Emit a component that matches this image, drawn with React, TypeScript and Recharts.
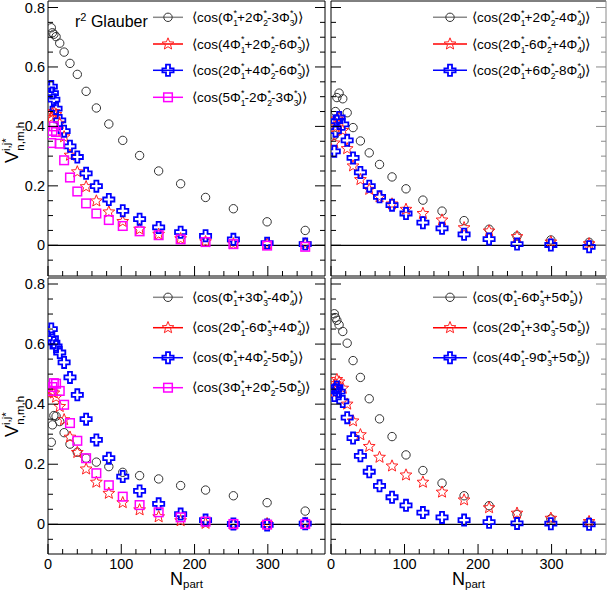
import React from "react";
import { ScatterChart, Scatter, XAxis, YAxis, ReferenceLine, Customized } from "recharts";

const FONT = "'Liberation Sans', Arial, Helvetica, sans-serif";

// N_part of the centrality bins
const npart = [4.5, 6, 8, 11, 16, 22, 30, 40, 52, 66, 83, 102, 125, 151, 181, 215, 253, 299, 351];

// axis ticks
const xTicks = [0, 20, 40, 60, 80, 100, 120, 140, 160, 180, 200, 220, 240, 260, 280, 300, 320, 340, 360];
const xMajor = [0, 100, 200, 300];
const yTicks = [-0.05, 0, 0.05, 0.1, 0.15, 0.2, 0.25, 0.3, 0.35, 0.4, 0.45, 0.5, 0.55, 0.6, 0.65, 0.7, 0.75, 0.8];
const yMajor = [0, 0.2, 0.4, 0.6, 0.8];

// top left panel
const tlLabels = ["Φ1*+2Φ2*-3Φ3*", "4Φ1*+2Φ2*-6Φ3*", "2Φ1*+4Φ2*-6Φ3*", "5Φ1*-2Φ2*-3Φ3*"];
const tlCircle = [0.732, 0.715, 0.71, 0.702, 0.68, 0.65, 0.612, 0.575, 0.518, 0.462, 0.408, 0.353, 0.302, 0.25, 0.207, 0.161, 0.123, 0.079, 0.05];
const tlStar = [0.43, 0.445, 0.45, 0.44, 0.41, 0.365, 0.303, 0.247, 0.197, 0.149, 0.112, 0.08, 0.054, 0.037, 0.022, 0.012, 0.005, 0.004, 0.005];
const tlCross = [0.534, 0.512, 0.49, 0.46, 0.42, 0.384, 0.333, 0.297, 0.242, 0.199, 0.154, 0.116, 0.088, 0.06, 0.044, 0.032, 0.02, 0.007, 0.004];
const tlSquare = [0.344, 0.385, 0.4, 0.381, 0.342, 0.286, 0.228, 0.181, 0.141, 0.107, 0.085, 0.065, 0.047, 0.034, 0.02, 0.011, 0.004, -0.001, -0.005];

// top right panel
const trLabels = ["2Φ1*+2Φ2*-4Φ4*", "2Φ1*-6Φ2*+4Φ4*", "2Φ1*+6Φ2*-8Φ4*"];
const trCircle = [0.37, 0.45, 0.497, 0.512, 0.493, 0.446, 0.396, 0.351, 0.311, 0.272, 0.23, 0.19, 0.152, 0.115, 0.083, 0.054, 0.031, 0.018, 0.01];
const trStar = [0.344, 0.398, 0.425, 0.43, 0.386, 0.325, 0.267, 0.221, 0.188, 0.163, 0.139, 0.121, 0.107, 0.085, 0.059, 0.048, 0.029, 0.011, 0.005];
const trCross = [0.316, 0.384, 0.418, 0.43, 0.407, 0.353, 0.294, 0.245, 0.199, 0.163, 0.135, 0.107, 0.076, 0.057, 0.037, 0.021, 0.004, 0.001, -0.005];

// bottom left panel
const blLabels = ["Φ1*+3Φ3*-4Φ4*", "2Φ1*-6Φ3*+4Φ4*", "Φ1*+4Φ2*-5Φ5*", "3Φ1*+2Φ2*-5Φ5*"];
const blCircle = [0.273, 0.331, 0.362, 0.36, 0.342, 0.305, 0.267, 0.24, 0.22, 0.207, 0.192, 0.173, 0.162, 0.151, 0.129, 0.114, 0.095, 0.072, 0.044];
const blStar = [0.443, 0.44, 0.437, 0.423, 0.392, 0.348, 0.29, 0.239, 0.184, 0.14, 0.103, 0.072, 0.048, 0.025, 0.012, 0.003, 0.0, 0.002, 0.004];
const blCross = [0.65, 0.62, 0.605, 0.592, 0.572, 0.539, 0.489, 0.431, 0.35, 0.281, 0.22, 0.159, 0.111, 0.068, 0.034, 0.014, 0.001, -0.002, 0.002];
const blSquare = [0.444, 0.457, 0.47, 0.468, 0.444, 0.398, 0.337, 0.278, 0.22, 0.17, 0.13, 0.092, 0.064, 0.04, 0.023, 0.009, 0.001, -0.001, 0.001];

// bottom right panel
const brLabels = ["Φ1*-6Φ3*+5Φ5*", "2Φ1*+3Φ3*-5Φ5*", "4Φ1*-9Φ3*+5Φ5*"];
const brCircle = [0.701, 0.688, 0.679, 0.664, 0.642, 0.603, 0.545, 0.489, 0.418, 0.351, 0.292, 0.231, 0.179, 0.137, 0.095, 0.062, 0.033, 0.018, 0.007];
const brStar = [0.437, 0.468, 0.482, 0.474, 0.453, 0.4, 0.344, 0.298, 0.259, 0.223, 0.194, 0.164, 0.14, 0.107, 0.081, 0.055, 0.037, 0.02, 0.009];
const brCross = [0.429, 0.448, 0.457, 0.442, 0.409, 0.355, 0.287, 0.228, 0.175, 0.128, 0.09, 0.063, 0.039, 0.023, 0.014, 0.007, 0.003, 0.002, 0.0];

type MarkerType = "circle" | "star" | "cross" | "square";

const markerColor: Record<MarkerType, string> = {
  circle: "#333333",
  star: "#ff2020",
  cross: "#0000ff",
  square: "#ff00ff",
};
const legendLineColor: Record<MarkerType, string> = {
  circle: "#8a8a8a",
  star: "#ff0000",
  cross: "#0000ff",
  square: "#ff00ff",
};

function starPath(cx: number, cy: number, R: number, r: number) {
  let d = "";
  for (let k = 0; k < 10; k++) {
    const a = -Math.PI / 2 + (k * Math.PI) / 5;
    const rad = k % 2 === 0 ? R : r;
    d += (k === 0 ? "M" : "L") + (cx + rad * Math.cos(a)).toFixed(2) + "," + (cy + rad * Math.sin(a)).toFixed(2);
  }
  return d + "Z";
}

function crossPath(cx: number, cy: number, a: number, L: number) {
  return `M${cx - a},${cy - L}H${cx + a}V${cy - a}H${cx + L}V${cy + a}H${cx + a}V${cy + L}H${cx - a}V${cy + a}H${cx - L}V${cy - a}H${cx - a}Z`;
}

function Glyph({ type, cx, cy }: { type: MarkerType; cx: number; cy: number }) {
  const c = markerColor[type];
  if (type === "circle") return <circle cx={cx} cy={cy} r={4.2} fill="none" stroke={c} strokeWidth={1} />;
  if (type === "star") return <path d={starPath(cx, cy, 6.2, 2.7)} fill="none" stroke={c} strokeWidth={1} />;
  if (type === "cross") return <path d={crossPath(cx, cy, 2, 5.6)} fill="none" stroke={c} strokeWidth={1.8} />;
  return <rect x={cx - 4.3} y={cy - 4.3} width={8.6} height={8.6} fill="none" stroke={c} strokeWidth={1.5} />;
}

const shapeFor = (type: MarkerType) => (props: any) => <Glyph type={type} cx={props.cx} cy={props.cy} />;

function makeTick(side: "left" | "right" | "top" | "bottom", majors: number[], labels: boolean, color = "#000") {
  return (props: any) => {
    const { x, y, payload } = props;
    const v = Number(payload.value);
    const major = majors.some((m) => Math.abs(m - v) < 1e-6);
    const len = major ? 10 : 5;
    let x2 = x;
    let y2 = y;
    if (side === "left") x2 = x + len;
    if (side === "right") x2 = x - len;
    if (side === "top") y2 = y + len;
    if (side === "bottom") y2 = y - len;
    return (
      <g>
        <line x1={x} y1={y} x2={x2} y2={y2} stroke={color} strokeWidth={1} />
        {labels && major && side === "left" && (
          <text x={x - 3} y={y + 5} textAnchor="end" fontSize={14.5} fontFamily={FONT} fill="#000">
            {String(v)}
          </text>
        )}
        {labels && major && side === "bottom" && (
          <text x={x} y={y + 15} textAnchor="middle" fontSize={14.5} fontFamily={FONT} fill="#000">
            {String(v)}
          </text>
        )}
      </g>
    );
  };
}

// ⟨cos(aΦ_i^* + ...)⟩ with the index and the star stacked after each Φ
function CosLabel({ x, y, text }: { x: number; y: number; text: string }) {
  const terms = Array.from(text.matchAll(/([+-]?\d*)Φ(\d)\*/g));
  const parts: React.ReactNode[] = [];
  terms.forEach((m, i) => {
    parts.push(
      <tspan key={`a${i}`} dy={i === 0 ? 0 : 6.5}>
        {m[1] + "Φ"}
      </tspan>
    );
    parts.push(
      <tspan key={`b${i}`} fontSize={8.5} dy={4}>
        {m[2]}
      </tspan>
    );
    parts.push(
      <tspan key={`c${i}`} fontSize={9} dx={-4.5} dy={-10.5}>
        *
      </tspan>
    );
  });
  return (
    <text x={x} y={y} fontSize={13.5} fontFamily={FONT} fill="#000">
      ⟨cos({parts}
      <tspan dy={6.5}>)⟩</tspan>
    </text>
  );
}

type Series = { label: string; values: number[]; marker: MarkerType };

type LegendSpec = { x0: number; x1: number; xt: number; rows: number[] };

function Decor({ series, legend, extra }: { series: Series[]; legend: LegendSpec; extra?: React.ReactNode }) {
  const xm = (legend.x0 + legend.x1) / 2;
  return (
    <g>
      {series.map((s, i) => (
        <g key={s.label}>
          <line x1={legend.x0} x2={legend.x1} y1={legend.rows[i]} y2={legend.rows[i]} stroke={legendLineColor[s.marker]} strokeWidth={1.5} />
          <Glyph type={s.marker} cx={xm} cy={legend.rows[i]} />
          <CosLabel x={legend.xt} y={legend.rows[i] + 4.7} text={s.label} />
        </g>
      ))}
      {extra}
    </g>
  );
}

type PanelProps = {
  left: number;
  top: number;
  width: number;
  height: number;
  marginLeft: number;
  marginRight: number;
  xMax: number;
  yDomain: [number, number];
  yLabels: boolean;
  xLabels: boolean;
  series: Series[];
  legend: LegendSpec;
  extra?: React.ReactNode;
};

function Panel(p: PanelProps) {
  const edge = p.left > 300 ? "#8a8a8a" : "#000";
  return (
    <div style={{ position: "absolute", left: p.left, top: p.top, width: p.width, height: p.height }}>
      <ScatterChart width={p.width} height={p.height} margin={{ top: 1, right: p.marginRight, bottom: 0, left: p.marginLeft }}>
        <XAxis
          xAxisId="b"
          dataKey="x"
          type="number"
          domain={[0, p.xMax]}
          allowDataOverflow
          ticks={xTicks}
          interval={0}
          height={p.xLabels ? 38 : 2}
          tickLine={false}
          tickSize={0}
          tickMargin={0}
          stroke="#000"
          tick={makeTick("bottom", xMajor, p.xLabels)}
        />
        <XAxis
          xAxisId="t"
          orientation="top"
          mirror
          type="number"
          domain={[0, p.xMax]}
          allowDataOverflow
          ticks={xTicks}
          interval={0}
          height={2}
          tickLine={false}
          tickSize={0}
          tickMargin={0}
          stroke="#000"
          tick={makeTick("top", xMajor, false)}
        />
        <YAxis
          yAxisId="l"
          dataKey="y"
          type="number"
          domain={p.yDomain}
          allowDataOverflow
          ticks={yTicks}
          interval={0}
          width={p.yLabels ? 48 : 2}
          mirror={!p.yLabels}
          tickLine={false}
          tickSize={0}
          tickMargin={0}
          stroke="#000"
          tick={makeTick("left", yMajor, p.yLabels)}
        />
        <YAxis
          yAxisId="r"
          orientation="right"
          mirror
          type="number"
          domain={p.yDomain}
          allowDataOverflow
          ticks={yTicks}
          interval={0}
          width={2}
          tickLine={false}
          tickSize={0}
          tickMargin={0}
          stroke={edge}
          tick={makeTick("right", yMajor, false, edge)}
        />
        <ReferenceLine xAxisId="b" yAxisId="l" y={0} stroke="#000" strokeWidth={1.3} />
        {p.series.map((s) => (
          <Scatter
            key={s.label}
            name={s.label}
            xAxisId="b"
            yAxisId="l"
            data={npart.map((x, i) => ({ x, y: s.values[i] }))}
            shape={shapeFor(s.marker)}
            isAnimationActive={false}
          />
        ))}
        <Customized component={<Decor series={p.series} legend={p.legend} extra={p.extra} />} />
      </ScatterChart>
    </div>
  );
}

function YTitle({ x, y }: { x: number; y: number }) {
  return (
    <text transform={`translate(${x},${y}) rotate(-90)`} fontFamily={FONT} fill="#000">
      <tspan fontSize={18}>V</tspan>
      <tspan fontSize={11.5} dy={-8}>
        i,j*
      </tspan>
      <tspan fontSize={11.5} dx={-12.5} dy={14}>
        n,m,h
      </tspan>
    </text>
  );
}

function XTitle({ x, y }: { x: number; y: number }) {
  return (
    <text x={x} y={y} textAnchor="middle" fontFamily={FONT} fill="#000">
      <tspan fontSize={18}>N</tspan>
      <tspan fontSize={11.5} dy={3.5}>
        part
      </tspan>
    </text>
  );
}

const legendLeft = { x0: 153, x1: 183, xt: 192 };
const legendRight = { x0: 113, x1: 147, xt: 152 };

export default function App() {
  const mk = (labels: string[], vals: number[][]): Series[] => {
    const markers: MarkerType[] = ["circle", "star", "cross", "square"];
    return labels.map((label, i) => ({ label, values: vals[i], marker: markers[i] }));
  };
  return (
    <div style={{ position: "absolute", left: 0, top: 0, width: 608, height: 592, background: "#fff", overflow: "hidden" }}>
      <Panel
        left={0}
        top={0}
        width={330}
        height={278}
        marginLeft={0}
        marginRight={5}
        xMax={378}
        yDomain={[-0.1033, 0.8219]}
        yLabels
        xLabels={false}
        series={mk(tlLabels, [tlCircle, tlStar, tlCross, tlSquare])}
        legend={{ ...legendLeft, rows: [17.3, 44, 70.3, 97.3] }}
        extra={
          <g>
            <text x={75} y={27} fontSize={16} fontFamily={FONT} fill="#000">
              r<tspan fontSize={11} dy={-6}>2</tspan>
              <tspan dy={6}> Glauber</tspan>
            </text>
            <YTitle x={18} y={163} />
          </g>
        }
      />
      <Panel
        left={320}
        top={0}
        width={288}
        height={278}
        marginLeft={11}
        marginRight={2}
        xMax={374}
        yDomain={[-0.1033, 0.8219]}
        yLabels={false}
        xLabels={false}
        series={mk(trLabels, [trCircle, trStar, trCross])}
        legend={{ ...legendRight, rows: [17.3, 44, 70.3] }}
      />
      <Panel
        left={0}
        top={277}
        width={330}
        height={315}
        marginLeft={0}
        marginRight={5}
        xMax={378}
        yDomain={[-0.0989, 0.82]}
        yLabels
        xLabels
        series={mk(blLabels, [blCircle, blStar, blCross, blSquare])}
        legend={{ ...legendLeft, rows: [20.3, 50.7, 80.7, 110.7] }}
        extra={
          <g>
            <YTitle x={18} y={160} />
            <XTitle x={186.5} y={307.5} />
          </g>
        }
      />
      <Panel
        left={320}
        top={277}
        width={288}
        height={315}
        marginLeft={11}
        marginRight={2}
        xMax={374}
        yDomain={[-0.0989, 0.82]}
        yLabels={false}
        xLabels
        series={mk(brLabels, [brCircle, brStar, brCross])}
        legend={{ ...legendRight, rows: [20.3, 50.7, 80.7] }}
        extra={<XTitle x={148.5} y={307.5} />}
      />
    </div>
  );
}
